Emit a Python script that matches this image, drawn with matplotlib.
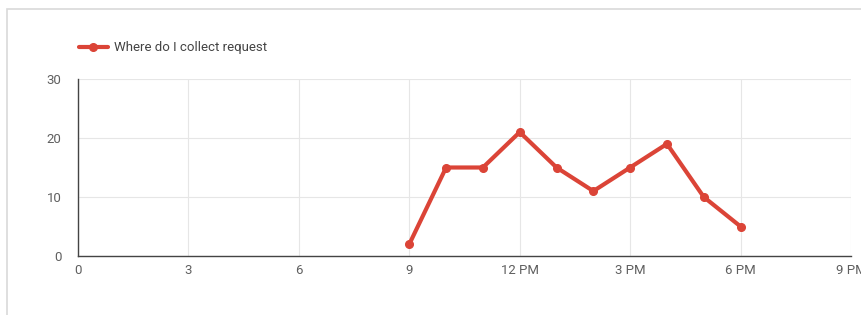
import matplotlib.pyplot as plt
from matplotlib.patches import Rectangle

plt.rcParams['font.family'] = ['Roboto', 'DejaVu Sans']

hours = [9, 10, 11, 12, 13, 14, 15, 16, 17, 18]
requests = [2, 15, 15, 21, 15, 11, 15, 19, 10, 5]
tick_pos = [0, 3, 6, 9, 12, 15, 18, 21]
tick_labels = ['0', '3', '6', '9', '12 PM', '3 PM', '6 PM', '9 PM']
y_ticks = [0, 10, 20, 30]

fig = plt.figure(figsize=(8.62, 3.15), dpi=100)
# card border
fig.patches.append(Rectangle((7/862, -0.1), 1.1, 1 - 9/315 + 0.1, transform=fig.transFigure,
                             facecolor='white', edgecolor='#d9d9d9', linewidth=1.2, zorder=-1))

ax = fig.add_axes([78/862, 1 - 256/315, (851 - 78)/862, (256 - 79)/315])
ax.plot(hours, requests, color='#db4437', linewidth=3, marker='o', markersize=5.5,
        label='Where do I collect request', solid_capstyle='round', clip_on=False)

ax.set_xlim(0, 21)
ax.set_ylim(0, 30)
ax.set_xticks(tick_pos)
ax.set_xticklabels(tick_labels)
ax.set_yticks(y_ticks)
ax.grid(True, color='#e6e6e6', linewidth=0.8)
ax.set_axisbelow(True)
ax.tick_params(length=0, labelsize=9.5, colors='#5f5f5f', pad=6)
ax.tick_params(axis='y', pad=12)
for s in ['top', 'right']:
    ax.spines[s].set_visible(False)
for s in ['left', 'bottom']:
    ax.spines[s].set_color('#444444')
    ax.spines[s].set_linewidth(1)
ax.set_facecolor('none')

leg = ax.legend(loc='lower left', bbox_to_anchor=(-0.006, 1.11), frameon=False,
                fontsize=9.5, handlelength=2.2, borderaxespad=0, handletextpad=0.5)
for t in leg.get_texts():
    t.set_color('#444444')

fig.savefig('out.png', dpi=100, facecolor='white')
